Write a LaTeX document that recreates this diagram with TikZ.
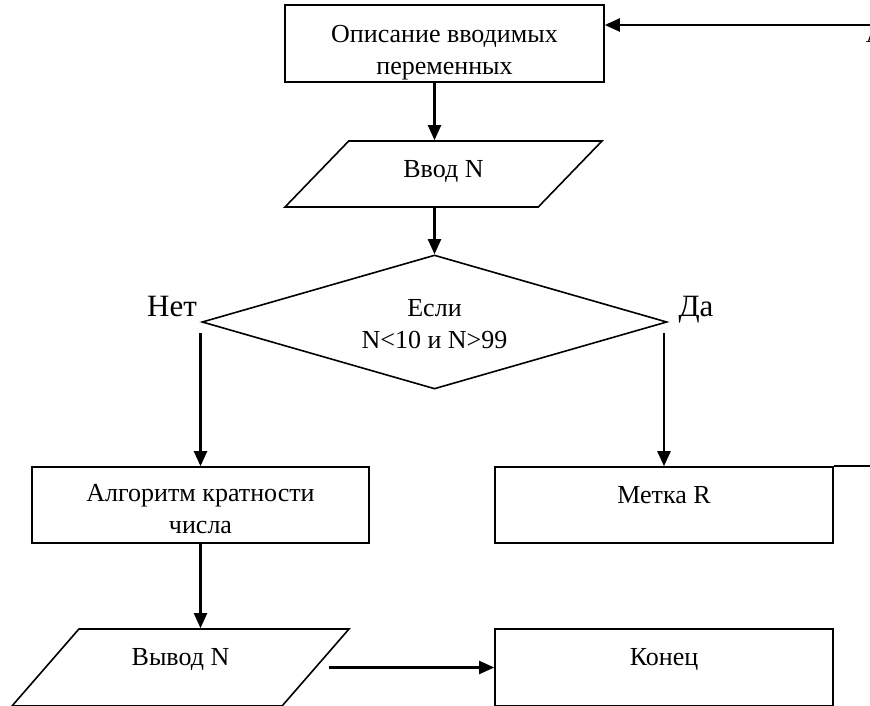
\documentclass[tikz,border=0pt]{standalone}
\usepackage{fontspec}
\setmainfont{Liberation Serif}
\usetikzlibrary{arrows.meta,shapes.geometric,calc}

\begin{document}
\begin{tikzpicture}[x=1pt,y=-1pt]

    \tikzstyle{blok}=[draw, line width=1.6pt, inner sep=0pt, align=center, font=\fontsize{26}{32}\selectfont]
    \tikzstyle{vvod}=[blok, trapezium, trapezium stretches body]
    \tikzstyle{usl}=[blok, diamond, aspect=3.47]
    \tikzstyle{strel}=[-{Triangle[length=15pt,width=13pt]}, line width=2.2pt]
    \tikzstyle{lin}=[line width=2.2pt]
    \tikzstyle{otv}=[inner sep=0pt, anchor=base, font=\fontsize{31}{31}\selectfont]

    \useasboundingbox (0,0) rectangle (870,706);

    \node[blok, minimum width=319pt, text height=70pt, text depth=7pt] (opis) at (444.5,43.5) {Описание вводимых\\переменных};
    \node[vvod, trapezium left angle=46, trapezium right angle=134, minimum width=317pt, text height=36.6pt, text depth=29.4pt] (vvod) at (443.5,174) {Ввод N};
    \node[usl, minimum width=465pt, minimum height=134pt, text height=60pt, text depth=8pt] (usl) at (434.5,322) {Если\\N<10 и N>99};
    \node[blok, minimum width=337pt, text height=66pt, text depth=10pt] (alg) at (200.5,505) {Алгоритм кратности\\числа};
    \node[blok, minimum width=338pt, text height=36pt, text depth=40pt] (metka) at (664,505) {Метка R};
    \node[vvod, trapezium left angle=49, trapezium right angle=131, minimum width=337pt, text height=36.6pt, text depth=40.4pt] (vyvod) at (180.5,667.5) {Вывод N};
    \node[blok, minimum width=338pt, text height=36.6pt, text depth=40.4pt] (konec) at (664,667.5) {Конец};

    \node[otv] (net) at (172,316) {Нет};
    \node[otv] (da) at (696,316) {Да};
    \node[blok, draw=none, anchor=base west] (metkaA) at (865,43) {А};

    \coordinate (vozvr) at (870,25);
    \coordinate (vyhod) at (870,467);

    \draw[strel] (opis.south -| usl.north) -- (vvod.north -| usl.north);
    \draw[strel] (vvod.south -| usl.north) -- (usl.north);
    \draw[strel] ($(alg.north |- usl.west)+(0,11)$) -- (alg.north);
    \draw[strel] ($(metka.north |- usl.east)+(0,11)$) -- (metka.north);
    \draw[strel] (alg.south) -- (alg.south |- vyvod.north);
    \draw[strel] ($(vyvod.east |- konec.west)+(12,0)$) -- (konec.west);
    \draw[strel] (vozvr) -- (opis.east |- vozvr);
    \draw[lin] (metka.north east) -- (metka.north east -| vyhod);

\end{tikzpicture}
\end{document}
